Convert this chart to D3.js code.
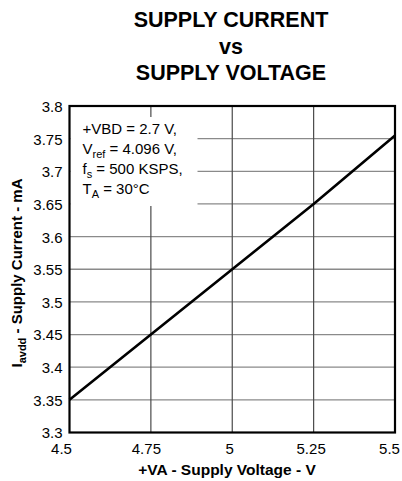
<!DOCTYPE html>
<html>
<head>
<meta charset="utf-8">
<script src="https://cdn.jsdelivr.net/npm/d3@7"></script>
<style>
  html, body { margin: 0; padding: 0; background: #fff; }
  svg { display: block; font-family: "Liberation Sans", Arial, sans-serif; }
</style>
</head>
<body>
<svg id="chart" width="402" height="481"></svg>
<script>
// Supply current vs supply voltage
const voltage = [4.5, 4.75, 5, 5.25, 5.5];
const current = [3.35, 3.45, 3.55, 3.65, 3.755];
const xTicks = [4.5, 4.75, 5, 5.25, 5.5];
const yTicks = [3.3, 3.35, 3.4, 3.45, 3.5, 3.55, 3.6, 3.65, 3.7, 3.75, 3.8];
const titleLines = ["SUPPLY CURRENT", "vs", "SUPPLY VOLTAGE"];
const conditions = [
  [["+VBD = 2.7 V,", null]],
  [["V", null], ["ref", "sub"], [" = 4.096 V,", null]],
  [["f", null], ["s", "sub"], [" = 500 KSPS,", null]],
  [["T", null], ["A", "sub"], [" = 30°C", null]]
];

const svg = d3.select("#chart");
const m = { left: 69.5, right: 395, top: 106, bottom: 432.5 };

const x = d3.scaleLinear().domain([4.5, 5.5]).range([m.left, m.right]);
const y = d3.scaleLinear().domain([3.3, 3.8]).range([m.bottom, m.top]);

// title
svg.append("g").selectAll("text").data(titleLines).join("text")
  .attr("x", 231).attr("y", (d, i) => 27 + i * 26.7)
  .attr("text-anchor", "middle")
  .attr("font-weight", "bold")
  .attr("font-size", 21.5)
  .text(d => d);

// grid
const grid = svg.append("g");
grid.selectAll(".hg").data(yTicks.slice(1, -1)).join("line")
  .attr("x1", m.left).attr("x2", m.right)
  .attr("y1", d => y(d)).attr("y2", d => y(d))
  .attr("stroke", "#8a8a8a").attr("stroke-width", 1.3);
grid.selectAll(".vg").data(xTicks.slice(1, -1)).join("line")
  .attr("y1", m.top).attr("y2", m.bottom)
  .attr("x1", d => x(d)).attr("x2", d => x(d))
  .attr("stroke", "#4a4a4a").attr("stroke-width", 1.2);

// conditions box
svg.append("rect")
  .attr("x", m.left + 1).attr("y", 117)
  .attr("width", 127).attr("height", 89)
  .attr("fill", "#fff");
const cond = svg.append("text").attr("font-size", 15);
conditions.forEach((parts, i) => {
  const line = cond.append("tspan").attr("x", 82.5).attr("y", 134 + i * 20);
  parts.forEach(([t, kind]) => {
    if (kind === "sub") {
      line.append("tspan").attr("font-size", 11).attr("dy", 4).text(t);
    } else {
      const s = line.append("tspan").text(t);
      if (line.selectAll("tspan").size() > 1) s.attr("dy", -4);
    }
  });
});

// data line
svg.append("path")
  .datum(voltage.map((v, i) => [v, current[i]]))
  .attr("fill", "none").attr("stroke", "#000").attr("stroke-width", 2.6)
  .attr("stroke-linejoin", "round")
  .attr("d", d3.line().x(d => x(d[0])).y(d => y(d[1])));

// frame
svg.append("rect")
  .attr("x", m.left).attr("y", m.top)
  .attr("width", m.right - m.left).attr("height", m.bottom - m.top)
  .attr("fill", "none").attr("stroke", "#000").attr("stroke-width", 2.2);

// axes
const fmt = d => String(+d.toFixed(2));
const xAxis = svg.append("g")
  .attr("transform", `translate(0,${m.bottom})`)
  .call(d3.axisBottom(x).tickValues(xTicks).tickFormat(fmt).tickSize(0).tickPadding(11));
const yAxis = svg.append("g")
  .attr("transform", `translate(${m.left - 1},0)`)
  .call(d3.axisLeft(y).tickValues(yTicks).tickFormat(fmt).tickSize(0).tickPadding(6));
[xAxis, yAxis].forEach(a => {
  a.select(".domain").remove();
  a.selectAll("text").attr("font-size", 15).attr("fill", "#000")
    .attr("font-family", "'Liberation Sans', Arial, sans-serif");
});
yAxis.selectAll("text").attr("dy", "0.36em");
// end labels are pulled inward so they stay clear of the frame corners and page edge
const lastX = xTicks.length - 1;
xAxis.selectAll("text").attr("dx", (d, i) => i === 0 ? -8.5 : i === lastX ? -6 : i === 1 ? -5 : -3);

// axis titles
svg.append("text")
  .attr("x", 227).attr("y", 475)
  .attr("text-anchor", "middle").attr("font-weight", "bold").attr("font-size", 15.5)
  .text("+VA - Supply Voltage - V");

const yt = svg.append("text")
  .attr("transform", "translate(22,273) rotate(-90)")
  .attr("text-anchor", "middle").attr("font-weight", "bold").attr("font-size", 15);
yt.append("tspan").text("I");
yt.append("tspan").attr("font-size", 11).attr("dy", 4).text("avdd");
yt.append("tspan").attr("dy", -4).text(" - Supply Current - mA");
</script>
</body>
</html>
